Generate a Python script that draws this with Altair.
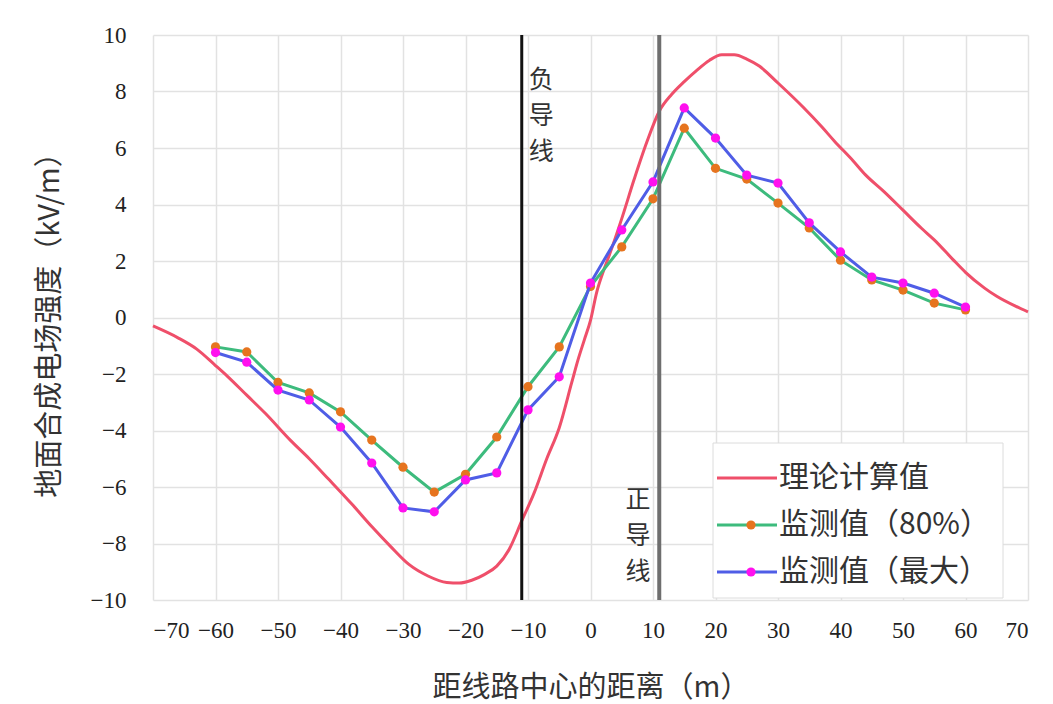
import altair as alt
import pandas as pd

# ---- data ----
theory_x = [-70, -66, -63, -60, -58, -55, -52, -48, -45, -42, -38, -35, -32, -29, -26, -23, -21, -19, -17, -15,
            -13, -11, -9, -7, -5, -3, -2, -1, 0, 1, 2, 3, 5, 7, 9, 11, 13, 15, 17, 19, 21, 23, 25, 27, 30, 34,
            37, 39, 42, 44, 47, 50, 53, 55, 58, 60, 63, 65, 68, 70]
theory_y = [-0.3, -0.72, -1.12, -1.7, -2.1, -2.75, -3.4, -4.35, -5.0, -5.7, -6.65, -7.4, -8.1, -8.75, -9.15,
            -9.38, -9.4, -9.3, -9.1, -8.8, -8.2, -7.2, -6.2, -5.0, -3.9, -2.3, -1.5, -0.8, -0.1, 0.9, 1.6, 2.2,
            3.5, 4.9, 6.2, 7.3, 7.9, 8.35, 8.75, 9.1, 9.3, 9.3, 9.15, 8.9, 8.3, 7.45, 6.75, 6.25, 5.55, 5.05,
            4.45, 3.8, 3.15, 2.75, 2.05, 1.6, 1.05, 0.75, 0.4, 0.2]

meas_x = [-60, -55, -50, -45, -40, -35, -30, -25, -20, -15, -10, -5, 0, 5, 10, 15, 20, 25, 30, 35, 40, 45,
          50, 55, 60]
meas_80 = [-1.04, -1.22, -2.3, -2.67, -3.34, -4.34, -5.3, -6.18, -5.55, -4.23, -2.45, -1.04, 1.1, 2.5, 4.2,
           6.7, 5.28, 4.9, 4.05, 3.17, 2.03, 1.33, 0.97, 0.51, 0.27]
meas_max = [-1.24, -1.58, -2.57, -2.92, -3.88, -5.15, -6.74, -6.88, -5.75, -5.5, -3.27, -2.1, 1.22, 3.1, 4.8,
            7.42, 6.35, 5.04, 4.76, 3.35, 2.32, 1.43, 1.22, 0.86, 0.37]

conductor_x = [-11, 11]
conductor_labels = ["负\n导\n线", "正\n导\n线"]
legend_names = ["理论计算值", "监测值（80%）", "监测值（最大）"]

x_title = "距线路中心的距离（m）"
y_title = "地面合成电场强度（kV/m）"
x_ticks = list(range(-70, 71, 10))
y_ticks = list(range(-10, 11, 2))

FONT = "Liberation Serif, Noto Sans CJK SC"
CJK = "Noto Sans CJK SC"

RED = "#ef4f6a"
GREEN = "#3dbb7d"
ORANGE = "#e6741f"
BLUE = "#4f5de6"
MAGENTA = "#ff10ee"

theory = pd.DataFrame({"x": theory_x, "y": theory_y})
meas = pd.DataFrame({"x": meas_x, "p80": meas_80, "pmax": meas_max})

xs = alt.Scale(domain=[-70, 70], nice=False, zero=False)
ys = alt.Scale(domain=[-10, 10], nice=False, zero=False)

x_axis = alt.Axis(values=x_ticks, title=x_title, grid=True, gridColor="#e2e2e2", gridWidth=1.5,
                  domain=False, ticks=False, labelFont=FONT, labelFontSize=23, labelColor="#222",
                  labelPadding=19, titleFont=CJK, titleFontSize=29, titleFontWeight="normal",
                  titleColor="#333", titlePadding=31)
y_axis = alt.Axis(values=y_ticks, title=y_title, grid=True, gridColor="#e2e2e2", gridWidth=1.5,
                  domain=False, ticks=False, labelFont=FONT, labelFontSize=23, labelColor="#222",
                  labelPadding=27, titleFont=CJK, titleFontSize=29, titleFontWeight="normal",
                  titleColor="#333", titlePadding=26)

red_line = alt.Chart(theory).mark_line(color=RED, strokeWidth=3, interpolate="monotone").encode(
    x=alt.X("x:Q", scale=xs, axis=x_axis),
    y=alt.Y("y:Q", scale=ys, axis=y_axis),
)

base = alt.Chart(meas)
green_line = base.mark_line(color=GREEN, strokeWidth=3).encode(
    x=alt.X("x:Q", scale=xs), y=alt.Y("p80:Q", scale=ys))
orange_pts = base.mark_circle(color=ORANGE, size=85, opacity=1).encode(
    x=alt.X("x:Q", scale=xs), y=alt.Y("p80:Q", scale=ys))
blue_line = base.mark_line(color=BLUE, strokeWidth=3).encode(
    x=alt.X("x:Q", scale=xs), y=alt.Y("pmax:Q", scale=ys))
magenta_pts = base.mark_circle(color=MAGENTA, size=85, opacity=1).encode(
    x=alt.X("x:Q", scale=xs), y=alt.Y("pmax:Q", scale=ys))

rule_left = alt.Chart(pd.DataFrame({"x": [conductor_x[0]]})).mark_rule(color="#111", strokeWidth=3).encode(
    x=alt.X("x:Q", scale=xs))
rule_right = alt.Chart(pd.DataFrame({"x": [conductor_x[1]]})).mark_rule(color="#6e6e6e", strokeWidth=4).encode(
    x=alt.X("x:Q", scale=xs))

label_top = alt.Chart(pd.DataFrame({"t": [conductor_labels[0]]})).mark_text(
    font=CJK, fontSize=25, lineBreak="\n", lineHeight=36, align="center", baseline="middle", color="#333"
).encode(x=alt.datum(-7.9, scale=xs), y=alt.datum(8.4, scale=ys), text="t:N")
label_bottom = alt.Chart(pd.DataFrame({"t": [conductor_labels[1]]})).mark_text(
    font=CJK, fontSize=25, lineBreak="\n", lineHeight=36, align="center", baseline="middle", color="#333"
).encode(x=alt.datum(7.6, scale=xs), y=alt.datum(-6.45, scale=ys), text="t:N")

# ---- legend drawn as marks ----
legend_layers = [
    alt.Chart(pd.DataFrame({"a": [0]})).mark_rect(fill="white", stroke="#dcdcdc", strokeWidth=1).encode(
        x=alt.value(560), x2=alt.value(850), y=alt.value(408), y2=alt.value(563))
]
rows = [(RED, None), (GREEN, ORANGE), (BLUE, MAGENTA)]
row_y = [443, 490, 537]
for (lc, mc), ry, name in zip(rows, row_y, legend_names):
    legend_layers.append(
        alt.Chart(pd.DataFrame({"a": [0]})).mark_rule(color=lc, strokeWidth=3).encode(
            x=alt.value(564), x2=alt.value(624), y=alt.value(ry)))
    if mc is not None:
        legend_layers.append(
            alt.Chart(pd.DataFrame({"a": [0]})).mark_circle(color=mc, size=85, opacity=1).encode(
                x=alt.value(598), y=alt.value(ry)))
    legend_layers.append(
        alt.Chart(pd.DataFrame({"t": [name]})).mark_text(
            font=CJK, fontSize=30, align="left", baseline="middle", color="#333"
        ).encode(x=alt.value(626), y=alt.value(ry), text="t:N"))

chart = alt.layer(
    red_line, green_line, orange_pts, blue_line, magenta_pts,
    rule_left, rule_right, label_top, label_bottom, *legend_layers
).properties(
    width=875, height=565,
    padding={"left": 153, "top": 35, "right": 25, "bottom": 104},
    autosize="none",
    background="white",
).configure_view(stroke=None)

chart.save("out.html", embed_options={"renderer": "svg", "actions": False})
